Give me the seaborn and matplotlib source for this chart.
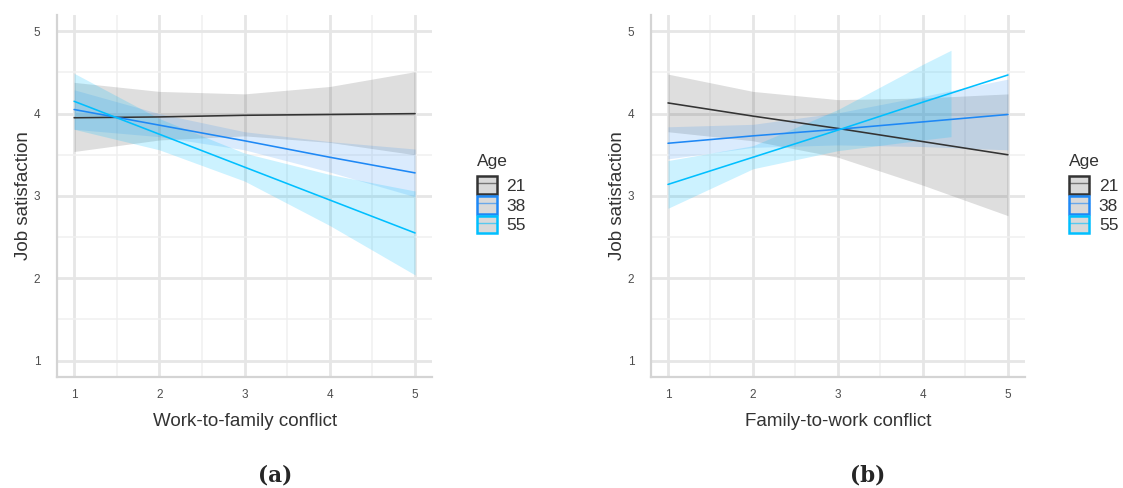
import numpy as np
import pandas as pd
import matplotlib
matplotlib.use("Agg")
import matplotlib.pyplot as plt
import seaborn as sns
from matplotlib.patches import Rectangle
from matplotlib.lines import Line2D
from matplotlib.legend_handler import HandlerTuple
from matplotlib.ticker import MultipleLocator

# === Data ===
AGES = ["21", "38", "55"]
CONFLICT = [1, 2, 3, 4, 5]

# (a) Work-to-family conflict: fitted lines and 95% bands
WFC_LINE = {
    "21": [3.95, 3.96, 3.98, 3.99, 4.00],
    "38": [4.05, 3.86, 3.67, 3.47, 3.28],
    "55": [4.15, 3.75, 3.35, 2.95, 2.55],
}
WFC_LO = {
    "21": [3.54, 3.68, 3.73, 3.65, 3.50],
    "38": [3.81, 3.72, 3.56, 3.29, 2.99],
    "55": [3.81, 3.56, 3.18, 2.64, 2.04],
}
WFC_HI = {
    "21": [4.38, 4.27, 4.24, 4.33, 4.51],
    "38": [4.29, 4.00, 3.78, 3.66, 3.57],
    "55": [4.49, 3.94, 3.52, 3.26, 3.06],
}

# (b) Family-to-work conflict
FWC_LINE = {
    "21": [4.13, 3.97, 3.82, 3.66, 3.50],
    "38": [3.64, 3.73, 3.81, 3.90, 3.99],
    "55": [3.14, 3.47, 3.80, 4.14, 4.47],
}
# band of age 55 is cut where it leaves the y range
FWC_BAND_X = {
    "21": [1, 2, 3, 4, 5],
    "38": [1, 2, 3, 4, 5],
    "55": [1, 2, 3, 4, 4.33],
}
FWC_LO = {
    "21": [3.78, 3.67, 3.47, 3.13, 2.76],
    "38": [3.45, 3.59, 3.62, 3.60, 3.56],
    "55": [2.85, 3.33, 3.55, 3.68, 3.72],
}
FWC_HI = {
    "21": [4.48, 4.27, 4.17, 4.19, 4.24],
    "38": [3.84, 3.87, 4.01, 4.21, 4.42],
    "55": [3.43, 3.61, 4.05, 4.60, 4.77],
}

COLORS = {"21": "#333333", "38": "#1E88F5", "55": "#00BFFF"}
FILL_ALPHA = {"21": 0.16, "38": 0.16, "55": 0.20}

sns.set_theme(style="white")
plt.rcParams["font.family"] = ["Liberation Sans", "DejaVu Sans"]

fig = plt.figure(figsize=(11.23, 4.88), dpi=100)
ax_a = fig.add_axes([0.0508, 0.2275, 0.334, 0.742])
ax_b = fig.add_axes([0.5797, 0.2275, 0.333, 0.742])


def draw_panel(ax, line_vals, band_x, lo_vals, hi_vals, xlabel):
    rows = []
    for age in AGES:
        for x, y in zip(CONFLICT, line_vals[age]):
            rows.append({"conflict": x, "sat": y, "Age": age})
    df = pd.DataFrame(rows)

    for age in AGES:
        ax.fill_between(band_x[age], lo_vals[age], hi_vals[age],
                        color=COLORS[age], alpha=FILL_ALPHA[age],
                        linewidth=0, zorder=2)

    sns.lineplot(data=df, x="conflict", y="sat", hue="Age", palette=COLORS,
                 linewidth=1.15, legend=False, ax=ax, zorder=3)

    ax.set_xlim(0.8, 5.2)
    ax.set_ylim(0.8, 5.2)
    ax.xaxis.set_major_locator(MultipleLocator(1))
    ax.yaxis.set_major_locator(MultipleLocator(1))
    ax.xaxis.set_minor_locator(MultipleLocator(0.5))
    ax.yaxis.set_minor_locator(MultipleLocator(0.5))
    ax.grid(which="major", color="#E6E6E6", linewidth=2.0, zorder=0)
    ax.grid(which="minor", color="#F0F0F0", linewidth=1.1, zorder=0)
    ax.set_axisbelow(True)

    for side in ["top", "right"]:
        ax.spines[side].set_visible(False)
    for side in ["left", "bottom"]:
        ax.spines[side].set_color("#D4D4D4")
        ax.spines[side].set_linewidth(1.6)

    ax.tick_params(axis="both", which="both", length=0, labelsize=8.5,
                   labelcolor="#4D4D4D")
    ax.tick_params(axis="x", pad=9)
    ax.tick_params(axis="y", pad=12)
    ax.set_xlabel(xlabel, fontsize=13.5, color="#333333", labelpad=8)
    ax.set_ylabel("Job satisfaction", fontsize=13.5, color="#333333", labelpad=1)

    handles = []
    for age in AGES:
        box = Rectangle((0, 0), 1, 1, facecolor="#D9D9D9",
                        edgecolor=COLORS[age], linewidth=1.8)
        mid = Line2D([0], [0], color=COLORS[age], linewidth=1.0, alpha=0.6)
        handles.append((box, mid))
    leg = ax.legend(handles, AGES, title="Age", loc="upper left",
                    bbox_to_anchor=(1.10, 0.635), frameon=False,
                    handler_map={tuple: HandlerTuple(ndivide=1, pad=0)},
                    handlelength=1.15, handleheight=1.2, handletextpad=0.55,
                    labelspacing=0.12, fontsize=12.5, title_fontsize=12.5,
                    borderaxespad=0)
    leg._legend_box.align = "left"
    leg._legend_box.sep = 5
    for t in leg.get_texts():
        t.set_color("#333333")
    leg.get_title().set_color("#333333")


draw_panel(ax_a, WFC_LINE, {a: CONFLICT for a in AGES}, WFC_LO, WFC_HI,
           "Work-to-family conflict")
draw_panel(ax_b, FWC_LINE, FWC_BAND_X, FWC_LO, FWC_HI,
           "Family-to-work conflict")

fig.text(0.245, 0.004, "(a)", ha="center", va="bottom", fontsize=15.5,
         fontweight="bold", family="DejaVu Serif")
fig.text(0.773, 0.004, "(b)", ha="center", va="bottom", fontsize=15.5,
         fontweight="bold", family="DejaVu Serif")

plt.savefig("out.png", dpi=100)
